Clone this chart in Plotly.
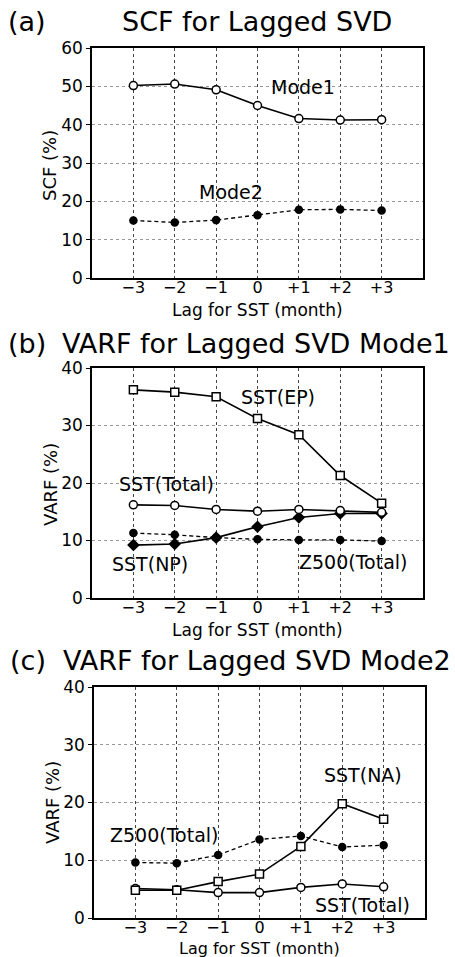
import plotly.graph_objects as go

lags = [-3, -2, -1, 0, 1, 2, 3]
lag_labels = ["\u22123", "\u22122", "\u22121", "0", "+1", "+2", "+3"]

# (a) SCF
scf_mode1 = [50.2, 50.6, 49.1, 45.0, 41.6, 41.2, 41.3]
scf_mode2 = [15.0, 14.5, 15.1, 16.4, 17.8, 17.9, 17.6]

# (b) VARF Mode1
b_sst_ep = [36.2, 35.8, 35.0, 31.2, 28.4, 21.3, 16.5]
b_sst_total = [16.2, 16.1, 15.4, 15.1, 15.4, 15.2, 14.9]
b_sst_np = [9.2, 9.4, 10.5, 12.4, 14.0, 14.7, 14.7]
b_z500_total = [11.3, 11.0, 10.5, 10.2, 10.1, 10.1, 9.9]

# (c) VARF Mode2
c_sst_na = [4.8, 4.8, 6.3, 7.6, 12.4, 19.8, 17.1]
c_z500_total = [9.6, 9.5, 10.9, 13.6, 14.2, 12.3, 12.6]
c_sst_total = [5.1, 4.9, 4.4, 4.4, 5.3, 5.9, 5.4]

W, H = 455, 957
FONT = "DejaVu Sans"

fig = go.Figure()

def add_line(x, y, xa, ya, symbol, fill, dash="solid", size=8, lw=1.6):
    fig.add_trace(go.Scatter(
        x=x, y=y, xaxis=xa, yaxis=ya, mode="lines+markers",
        line=dict(color="black", width=lw, dash=dash),
        marker=dict(symbol=symbol, size=size, color=fill,
                    line=dict(color="black", width=1.5)),
        showlegend=False, hoverinfo="skip"))

# panel a
add_line(lags, scf_mode2, "x", "y", "circle", "black", dash="4px,3px", size=7, lw=1.3)
add_line(lags, scf_mode1, "x", "y", "circle", "white", size=8)
# panel b
add_line(lags, b_z500_total, "x2", "y2", "circle", "black", dash="4px,3px", size=7, lw=1.3)
add_line(lags, b_sst_np, "x2", "y2", "diamond", "black", size=8)
add_line(lags, b_sst_total, "x2", "y2", "circle", "white", size=8)
add_line(lags, b_sst_ep, "x2", "y2", "square", "white", size=8)
# panel c
add_line(lags, c_z500_total, "x3", "y3", "circle", "black", dash="4px,3px", size=7, lw=1.3)
add_line(lags, c_sst_total, "x3", "y3", "circle", "white", size=8)
add_line(lags, c_sst_na, "x3", "y3", "square", "white", size=8)

def px_x(p):
    return p / W

def px_y(p):
    return 1 - p / H

xaxis_common = dict(range=[-4, 4], tickvals=lags, ticktext=lag_labels,
                    showline=True, mirror=True, linecolor="black", linewidth=1.5,
                    showgrid=True, gridcolor="#444", griddash="3px,3px", gridwidth=1,
                    ticks="", zeroline=False, ticklabelstandoff=-6,
                    tickfont=dict(family=FONT, size=16, color="black"),
                    fixedrange=True)

def yaxis_common(rng, dt):
    return dict(range=rng, dtick=dt, showline=True, mirror=True, linecolor="black",
                linewidth=1.5, showgrid=True, gridcolor="#999", griddash="3px,3px",
                gridwidth=1, ticks="outside", ticklen=4, tickcolor="black",
                zeroline=False, tickfont=dict(family=FONT, size=17, color="black"),
                fixedrange=True)

fig.update_layout(
    width=W, height=H, margin=dict(l=0, r=0, t=0, b=0, autoexpand=False),
    paper_bgcolor="white", plot_bgcolor="white",
    xaxis=dict(xaxis_common, domain=[px_x(92), px_x(423)], anchor="y"),
    yaxis=dict(yaxis_common([0, 60], 10), domain=[px_y(278), px_y(48)], anchor="x"),
    xaxis2=dict(xaxis_common, domain=[px_x(92), px_x(423)], anchor="y2"),
    yaxis2=dict(yaxis_common([0, 40], 10), domain=[px_y(598), px_y(368)], anchor="x2"),
    xaxis3=dict(xaxis_common, domain=[px_x(94), px_x(425)], anchor="y3"),
    yaxis3=dict(yaxis_common([0, 40], 10), domain=[px_y(918), px_y(687)], anchor="x3"),
)

annots = []
def text(txt, x, y, size=27, anchor="left", angle=0):
    annots.append(dict(text=txt, x=px_x(x), y=px_y(y), xref="paper", yref="paper",
                       xanchor=anchor, yanchor="middle", showarrow=False, textangle=angle,
                       font=dict(family=FONT, size=size, color="black")))

# panel titles
text("(a)", 6, 22)
text("SCF for Lagged SVD", 257, 22, anchor="center")
text("(b)", 6, 343)
text("VARF for Lagged SVD Mode1", 256, 343, anchor="center")
text("(c)", 8, 660)
text("VARF for Lagged SVD Mode2", 257, 660, anchor="center")

# axis titles
xtitle = "Lag for SST (month)"
text(xtitle, 257, 310, size=17, anchor="center")
text(xtitle, 257, 630, size=17, anchor="center")
text(xtitle, 259, 948, size=16, anchor="center")
text("SCF (%)", 50, 166, size=18, anchor="center", angle=-90)
text("VARF (%)", 50, 485, size=18, anchor="center", angle=-90)
text("VARF (%)", 52, 803, size=18, anchor="center", angle=-90)

def label(txt, x, y, xa, ya):
    annots.append(dict(text=txt, x=x, y=y, xref=xa, yref=ya, xanchor="center",
                       yanchor="middle", showarrow=False,
                       font=dict(family=FONT, size=19, color="black")))

label("Mode1", 1.1, 49.8, "x", "y")
label("Mode2", -0.65, 22.4, "x", "y")
label("SST(EP)", 0.5, 35.0, "x2", "y2")
label("SST(Total)", -2.2, 19.9, "x2", "y2")
label("SST(NP)", -2.6, 6.0, "x2", "y2")
label("Z500(Total)", 2.3, 6.2, "x2", "y2")
label("SST(NA)", 2.5, 24.7, "x3", "y3")
label("Z500(Total)", -2.3, 14.3, "x3", "y3")
label("SST(Total)", 2.5, 2.2, "x3", "y3")

fig.update_layout(annotations=annots)
fig.write_html("out.html", config={"displayModeBar": False},
               post_script="document.body.style.margin='0';")
